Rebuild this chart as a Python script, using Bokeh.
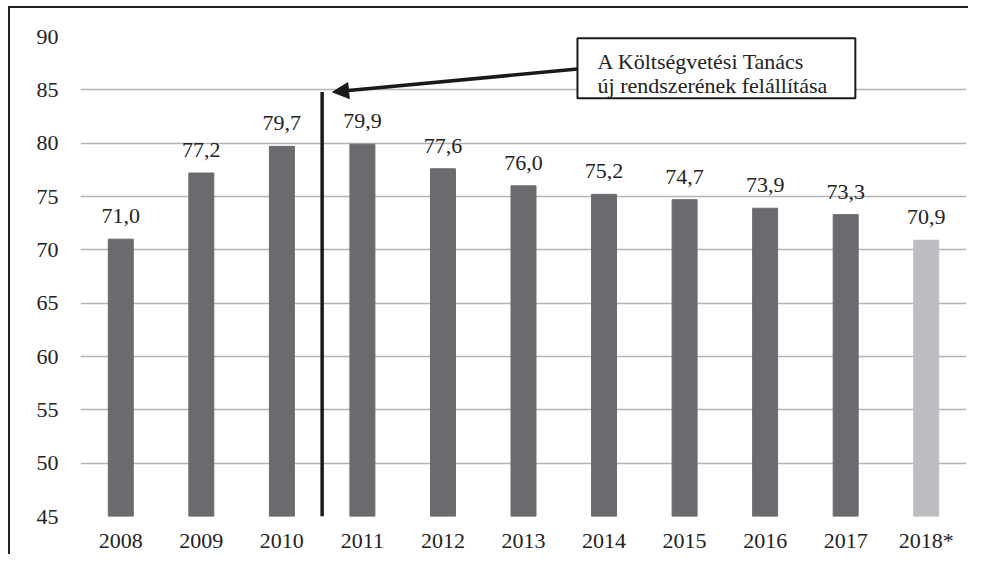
from bokeh.plotting import figure
from bokeh.models import ColumnDataSource, LabelSet, Label, BoxAnnotation, Arrow, NormalHead, FixedTicker, Range1d
from bokeh.embed import file_html
from bokeh.resources import INLINE

years = ["2008", "2009", "2010", "2011", "2012", "2013", "2014", "2015", "2016", "2017", "2018*"]
values = [71.0, 77.2, 79.7, 79.9, 77.6, 76.0, 75.2, 74.7, 73.9, 73.3, 70.9]
colors = ["#6a6b6f"] * 10 + ["#bcbdc1"]
y_ticks = [45, 50, 55, 60, 65, 70, 75, 80, 85, 90]
note_lines = ["A Költségvetési Tanács", "új rendszerének felállítása"]

FONT = "Liberation Serif"
TXT = "#222222"

xs = [i + 0.5 for i in range(len(years))]
labels = [f"{v:.1f}".replace(".", ",") for v in values]
src = ColumnDataSource(dict(x=xs, top=values, color=colors, label=labels))

p = figure(width=960, height=548, output_backend="svg", toolbar_location=None,
           x_range=Range1d(0, len(years)), y_range=Range1d(45, 90),
           min_border_left=70, min_border_right=4, min_border_top=28, min_border_bottom=40)
p.outline_line_color = None
p.styles = {"border-left": "2px solid #222", "border-top": "2px solid #222",
            "margin-left": "8px", "margin-top": "6px"}

p.vbar(x="x", top="top", bottom=45, width=0.31, color="color", source=src)

p.add_layout(LabelSet(x="x", y="top", text="label", source=src, text_align="center",
                      text_baseline="alphabetic", y_offset=16, text_font=FONT,
                      text_font_size="22px", text_color=TXT))

# axes
p.xaxis.ticker = FixedTicker(ticks=xs)
p.xaxis.major_label_overrides = {x: y for x, y in zip(xs, years)}
p.yaxis.ticker = FixedTicker(ticks=y_ticks)
for ax in (p.xaxis[0], p.yaxis[0]):
    ax.axis_line_color = None
    ax.major_tick_line_color = None
    ax.minor_tick_line_color = None
    ax.major_label_text_font = FONT
    ax.major_label_text_font_size = "22px"
    ax.major_label_text_color = TXT
p.xaxis.major_label_standoff = 5
p.yaxis.major_label_standoff = 16
p.xgrid.grid_line_color = None
p.ygrid.ticker = FixedTicker(ticks=y_ticks)
p.ygrid.grid_line_color = "#b4b4b4"
p.ygrid.grid_line_width = 1.5

# vertical marker line between 2010 and 2011
p.segment(x0=[3.0], y0=[45], x1=[3.0], y1=[84.8], line_color="#1a1a1a", line_width=3.5)

# annotation box
box = BoxAnnotation(left=6.17, right=9.62, top=89.83, bottom=84.22, fill_color="white",
                    fill_alpha=1.0, line_color="#1a1a1a", line_width=2, line_alpha=1.0)
p.add_layout(box)
p.add_layout(Label(x=6.42, y=87.63, text=note_lines[0], text_font=FONT, text_font_size="22px",
                   text_color=TXT, text_baseline="alphabetic"))
p.add_layout(Label(x=6.42, y=85.44, text=note_lines[1], text_font=FONT, text_font_size="22px",
                   text_color=TXT, text_baseline="alphabetic"))
p.add_layout(Arrow(x_start=6.17, y_start=86.95, x_end=3.13, y_end=84.79, line_width=3.5,
                   line_color="#1a1a1a",
                   end=NormalHead(size=16, fill_color="#1a1a1a", line_color="#1a1a1a")))

open("out.html", "w").write(file_html(p, INLINE))
